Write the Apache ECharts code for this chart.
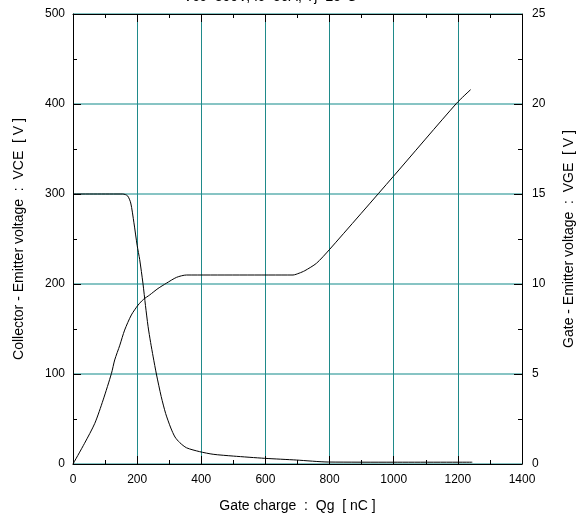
<!DOCTYPE html>
<html>
<head>
<meta charset="utf-8">
<script src="https://cdn.jsdelivr.net/npm/echarts@6/dist/echarts.min.js"></script>
<style>html,body{margin:0;padding:0;background:#fff}#c{width:587px;height:522px}</style>
</head>
<body>
<div id="c"></div>
<script>
// Gate charge Qg [nC] vs VCE [V]
var vceData = [[0,300],[155,300],[170,298],[180,290],[190,268],[200,243],[208,227],[218,201],[226,176],[234,153],[242,135],[250,119],[260,100],[275,75],[289,56],[305,40],[318,30],[333,23.7],[354,18],[395,13.7],[437,10.8],[500,8.8],[598,6.3],[697,4.4],[796,2.2],[1000,2],[1245,2]];
// Gate charge Qg [nC] vs VGE [V]
var vgeData = [[0,0],[36,1.15],[68,2.26],[94,3.56],[120,5.04],[130,5.78],[146,6.6],[161,7.44],[182,8.28],[203,8.83],[220,9.15],[239,9.39],[265,9.75],[291,10.04],[323,10.37],[354,10.5],[686,10.5],[705,10.6],[723,10.74],[759,11.15],[799,11.9],[998,15.96],[1196,20.04],[1240,20.8]];
var titleText = 'Vcc=300V, Ic=50A, Tj=25°C';
var xName = 'Gate charge  :  Qg  [ nC ]';
var yLeftName = 'Collector - Emitter voltage  :  VCE  [ V ]';
var yRightName = 'Gate - Emitter voltage  :  VGE  [ V ]';

var GRID = {left:73, right:65, top:14, bottom:58};
var PW = 587 - GRID.left - GRID.right;
var PH = 522 - GRID.top - GRID.bottom;

var chart = echarts.init(document.getElementById('c'));
var font = 'Liberation Sans, Arial, sans-serif';
var lbl = {color:'#000', fontSize:12, fontFamily:font, formatter:function(v){return String(v);}};
// tick-only axis placed at the opposite side so outward ticks point into the plot
function tickAxis(extra, len){
  return Object.assign({
    type:'value',
    axisLine:{show:false, onZero:false},
    axisTick:{show:true, length:len, lineStyle:{color:'#000'}},
    axisLabel:{show:false}, splitLine:{show:false}
  }, extra);
}
chart.setOption({
  animation:false,
  backgroundColor:'#fff',
  graphic:[{type:'text', x:270, y:-10, style:{text:titleText, font:'14px Liberation Sans, Arial, sans-serif', fill:'#000', textAlign:'center'}}],
  grid:GRID,
  xAxis:[{
    type:'value', min:0, max:1400, interval:200, position:'bottom',
    name:xName, nameLocation:'middle', nameGap:35,
    nameTextStyle:{color:'#000', fontSize:14, fontFamily:font},
    axisLine:{onZero:false, lineStyle:{color:'#000', width:1}},
    axisTick:{show:false},
    axisLabel:Object.assign({margin:10}, lbl),
    splitLine:{show:true, lineStyle:{color:'#1f8a8a', width:1}}
  },{
    type:'value', min:0, max:1400, position:'top',
    axisLine:{show:true, onZero:false, lineStyle:{color:'#000', width:1}},
    axisTick:{show:false}, axisLabel:{show:false}, splitLine:{show:false}
  },
  tickAxis({min:0, max:1400, interval:100, position:'top', offset:-PH}, 4),
  tickAxis({min:0, max:1400, interval:200, position:'top', offset:-PH}, 8),
  tickAxis({min:0, max:1400, interval:100, position:'bottom', offset:-PH}, 4),
  tickAxis({min:0, max:1400, interval:200, position:'bottom', offset:-PH}, 8)
  ],
  yAxis:[{
    type:'value', min:0, max:500, interval:100, position:'left',
    name:yLeftName, nameLocation:'middle', nameGap:47, nameRotate:90,
    nameTextStyle:{color:'#000', fontSize:14, fontFamily:font},
    axisLine:{show:true, onZero:false, lineStyle:{color:'#000', width:1}},
    axisTick:{show:false},
    axisLabel:Object.assign({margin:8}, lbl),
    splitLine:{show:true, lineStyle:{color:'#5fb0b0', width:1.5}}
  },{
    type:'value', min:0, max:25, interval:5, position:'right',
    name:yRightName, nameLocation:'middle', nameGap:40, nameRotate:90,
    nameTextStyle:{color:'#000', fontSize:14, fontFamily:font},
    axisLine:{show:true, onZero:false, lineStyle:{color:'#000', width:1}},
    axisTick:{show:false},
    axisLabel:Object.assign({margin:10}, lbl),
    splitLine:{show:false}
  },
  tickAxis({min:0, max:500, interval:50, position:'right', offset:-PW}, 4),
  tickAxis({min:0, max:500, interval:100, position:'right', offset:-PW}, 8),
  tickAxis({min:0, max:25, interval:2.5, position:'left', offset:-PW}, 4),
  tickAxis({min:0, max:25, interval:5, position:'left', offset:-PW}, 8)
  ],
  series:[
    {type:'line', data:vceData, xAxisIndex:0, yAxisIndex:0, showSymbol:false, smooth:0.25, lineStyle:{color:'#000', width:1}, z:5},
    {type:'line', data:vgeData, xAxisIndex:0, yAxisIndex:1, showSymbol:false, smooth:0.25, lineStyle:{color:'#000', width:1}, z:5}
  ]
});
</script>
</body>
</html>
